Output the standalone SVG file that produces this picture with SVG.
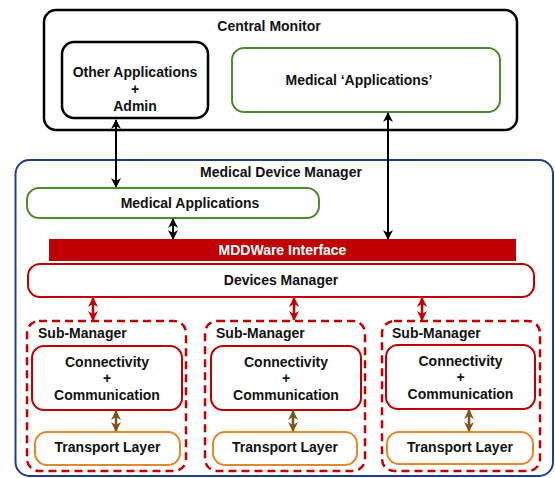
<svg xmlns="http://www.w3.org/2000/svg" width="555" height="478" viewBox="0 0 555 478">
<style>
text{font-family:"Liberation Sans",Arial,sans-serif;font-weight:bold;font-size:14px;fill:#111;}
.c{text-anchor:middle;}
.blk{fill:#fff;stroke:#000;stroke-width:2.5;}
.grn{fill:#fff;stroke:#4e8a2e;stroke-width:2;}
.red{fill:#fff;stroke:#c00000;stroke-width:2;}
.dash{fill:none;stroke:#c00000;stroke-width:2.5;stroke-dasharray:8 5;}
.org{fill:#fff;stroke:#e0892a;stroke-width:2;}
.ak{stroke:#000;stroke-width:2;fill:none;}
.ar{stroke:#c00000;stroke-width:2.5;fill:none;}
.ab{stroke:#7a5418;stroke-width:2.5;fill:none;}
</style>
<defs>
<marker id="mk" viewBox="0 0 10 10" refX="9" refY="5" markerWidth="5" markerHeight="5" orient="auto-start-reverse"><path d="M0,0L10,5L0,10L3,5z" fill="#000"/></marker>
<marker id="mr" viewBox="0 0 10 10" refX="9" refY="5" markerWidth="4" markerHeight="4" orient="auto-start-reverse"><path d="M0,0L10,5L0,10L3,5z" fill="#c00000"/></marker>
<marker id="mb" viewBox="0 0 10 10" refX="9" refY="5" markerWidth="4" markerHeight="4" orient="auto-start-reverse"><path d="M0,0L10,5L0,10L3,5z" fill="#7a5418"/></marker>
</defs>
<rect width="555" height="478" fill="#fff"/>
<g id="central-monitor">
<rect class="blk" x="44" y="10" width="473" height="120" rx="12" stroke-width="3"/>
<text class="c" x="269" y="31">Central Monitor</text>
</g>
<g id="other-applications">
<rect class="blk" x="62" y="42" width="146" height="76" rx="12"/>
<text class="c" x="135" y="77">Other Applications</text>
<text class="c" x="135" y="94">+</text>
<text class="c" x="135" y="111">Admin</text>
</g>
<g id="medical-applications-cm">
<rect class="grn" x="232" y="48" width="268" height="64" rx="12"/>
<text class="c" x="359" y="85">Medical ‘Applications’</text>
</g>
<g id="medical-device-manager">
<rect x="15.5" y="160" width="537.5" height="316" rx="14" fill="none" stroke="#1f3e8c" stroke-width="2"/>
<text class="c" x="281" y="177">Medical Device Manager</text>
</g>
<g id="medical-applications">
<rect class="grn" x="27" y="188" width="292" height="30" rx="12"/>
<text class="c" x="190" y="208">Medical Applications</text>
</g>
<g id="mddware-interface">
<rect x="49" y="239" width="467" height="22" fill="#c00000"/>
<text class="c" x="282.5" y="255" style="fill:#fff">MDDWare Interface</text>
</g>
<g id="devices-manager">
<rect class="red" x="28" y="264" width="506" height="33" rx="12"/>
<text class="c" x="281" y="285">Devices Manager</text>
</g>
<g id="sub-manager-1">
<rect class="dash" x="27" y="321" width="159" height="150" rx="12"/>
<text x="38" y="338">Sub-Manager</text>
<rect class="red" x="32" y="346" width="150" height="64" rx="12"/>
<text class="c" x="107" y="367">Connectivity</text>
<text class="c" x="107" y="383">+</text>
<text class="c" x="107" y="400">Communication</text>
<rect class="org" x="35" y="432" width="145" height="33" rx="12"/>
<text class="c" x="107.5" y="452">Transport Layer</text>
</g>
<g id="sub-manager-2">
<rect class="dash" x="205" y="321" width="160" height="150" rx="12"/>
<text x="216" y="338">Sub-Manager</text>
<rect class="red" x="211" y="346" width="150" height="64" rx="12"/>
<text class="c" x="286" y="367">Connectivity</text>
<text class="c" x="286" y="383">+</text>
<text class="c" x="286" y="400">Communication</text>
<rect class="org" x="213" y="432" width="144" height="33" rx="12"/>
<text class="c" x="285" y="452">Transport Layer</text>
</g>
<g id="sub-manager-3">
<rect class="dash" x="382" y="321" width="158" height="150" rx="12"/>
<text x="392" y="338">Sub-Manager</text>
<rect class="red" x="386" y="345" width="149" height="64" rx="12"/>
<text class="c" x="460.5" y="366">Connectivity</text>
<text class="c" x="460.5" y="382">+</text>
<text class="c" x="460.5" y="399">Communication</text>
<rect class="org" x="387" y="432" width="146" height="32" rx="12"/>
<text class="c" x="460" y="452">Transport Layer</text>
</g>
<g id="connectors">
<line class="ak" x1="116" y1="120" x2="116" y2="187" marker-start="url(#mk)" marker-end="url(#mk)"/>
<line class="ak" x1="388" y1="113" x2="388" y2="239" marker-start="url(#mk)" marker-end="url(#mk)"/>
<line class="ak" x1="173" y1="219" x2="173" y2="239" marker-start="url(#mk)" marker-end="url(#mk)"/>
<line class="ar" x1="93" y1="298" x2="93" y2="320" marker-start="url(#mr)" marker-end="url(#mr)"/>
<line class="ar" x1="294" y1="298" x2="294" y2="320" marker-start="url(#mr)" marker-end="url(#mr)"/>
<line class="ar" x1="422" y1="298" x2="422" y2="320" marker-start="url(#mr)" marker-end="url(#mr)"/>
<line class="ab" x1="116" y1="411" x2="116" y2="431" marker-start="url(#mb)" marker-end="url(#mb)"/>
<line class="ab" x1="293" y1="411" x2="293" y2="431" marker-start="url(#mb)" marker-end="url(#mb)"/>
<line class="ab" x1="469" y1="410" x2="469" y2="431" marker-start="url(#mb)" marker-end="url(#mb)"/>
</g>
</svg>
